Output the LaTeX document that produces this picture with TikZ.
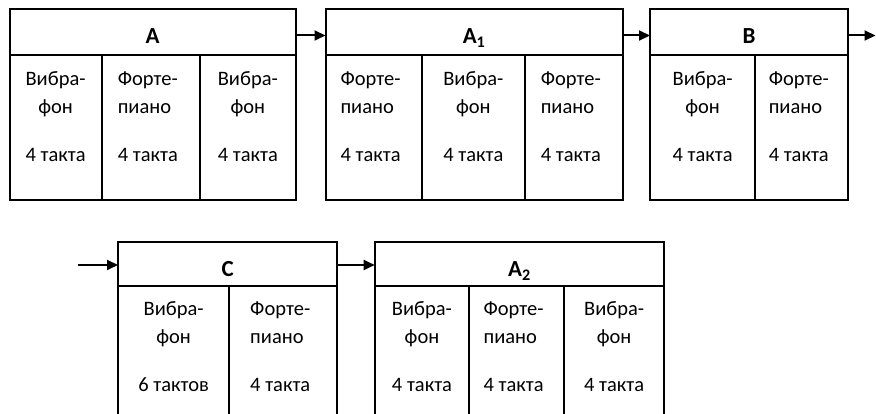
\documentclass[tikz,border=0pt]{standalone}
\usepackage{fontspec}
\setmainfont{Carlito}
\usetikzlibrary{arrows.meta}
\newcommand\mkbox[5]{%
  \pgfmathsetmacro\mybw{#4-#2}\pgfmathsetmacro\mybh{#5-#3}%
  \node[box,anchor=north west,minimum width=\mybw pt,minimum height=\mybh pt] (#1) at (#2,#3) {};}
\newcommand\vib[1]{\begin{tabular}[t]{@{}c@{}}Вибра-\\фон\\[20pt]#1\end{tabular}}
\newcommand\fort[1]{\begin{tabular}[t]{@{}l@{}}Форте-\\пиано\\[20pt]#1\end{tabular}}
\begin{document}
\begin{tikzpicture}[x=1pt,y=-1pt,
  box/.style={draw,line width=2pt,inner sep=0pt,outer sep=0pt},
  txt/.style={inner sep=0pt,anchor=base,font=\fontsize{20.5}{28}\selectfont},
  ttl/.style={txt,font=\fontsize{23}{28}\selectfont\bfseries},
  fo/.style={txt,xshift=-3pt},
  arr/.style={line width=2pt,-{Triangle[length=11pt,width=10pt]}}]
\useasboundingbox (0,0) rectangle (876,414);
\clip (0,0) rectangle (876,414);
% ---- top row ----
\mkbox{Ah}{9.5}{9.5}{295.7}{55.3}
\mkbox{Ac1}{9.5}{55.3}{101.7}{200}
\mkbox{Ac2}{101.7}{55.3}{200}{200}
\mkbox{Ac3}{200}{55.3}{295.7}{200}
\mkbox{A1h}{325.5}{9.5}{622.7}{55.3}
\mkbox{A1c1}{325.5}{55.3}{421.7}{200}
\mkbox{A1c2}{421.7}{55.3}{525}{200}
\mkbox{A1c3}{525}{55.3}{622.7}{200}
\mkbox{Bh}{650}{9.5}{848.3}{55.3}
\mkbox{Bc1}{650}{55.3}{755.3}{200}
\mkbox{Bc2}{755.3}{55.3}{848.3}{200}
\node[ttl] (At) at (152.6,43.3) {A};
\node[ttl] (A1t) at (474.1,43.3) {A\textsubscript{1}};
\node[ttl] (Bt) at (749.15,43.3) {B};
\node[txt] (Ac1t) at (55.6,85.5) {\vib{4 такта}};
\node[fo] (Ac2t) at (150.85,85.5) {\fort{4 такта}};
\node[txt] (Ac3t) at (247.85,85.5) {\vib{4 такта}};
\node[fo] (A1c1t) at (373.6,85.5) {\fort{4 такта}};
\node[txt] (A1c2t) at (473.35,85.5) {\vib{4 такта}};
\node[fo] (A1c3t) at (573.85,85.5) {\fort{4 такта}};
\node[txt] (Bc1t) at (702.65,85.5) {\vib{4 такта}};
\node[fo] (Bc2t) at (801.8,85.5) {\fort{4 такта}};
\coordinate (out) at (875.5,35.5);
\draw[arr] ([yshift=-3.1pt]Ah.east) -- ([yshift=-3.1pt]A1h.west);
\draw[arr] ([yshift=-3.1pt]A1h.east) -- ([yshift=-3.1pt]Bh.west);
\draw[arr] ([yshift=-3.1pt]Bh.east) -- (out);
% ---- bottom row ----
\mkbox{Ch}{118}{242.3}{337.3}{285.7}
\mkbox{Cc1}{118}{285.7}{229.3}{432}
\mkbox{Cc2}{229.3}{285.7}{337.3}{432}
\mkbox{A2h}{374.7}{242.3}{664.3}{285.7}
\mkbox{A2c1}{374.7}{285.7}{469.3}{432}
\mkbox{A2c2}{469.3}{285.7}{564}{432}
\mkbox{A2c3}{564}{285.7}{664.3}{432}
\node[ttl] (Ct) at (227.65,276.3) {C};
\node[ttl] (A2t) at (519.5,276.3) {A\textsubscript{2}};
\node[txt] (Cc1t) at (173.65,316) {\vib{6 тактов}};
\node[fo] (Cc2t) at (283.3,316) {\fort{4 такта}};
\node[txt] (A2c1t) at (422,316) {\vib{4 такта}};
\node[fo] (A2c2t) at (516.65,316) {\fort{4 такта}};
\node[txt] (A2c3t) at (614.15,316) {\vib{4 такта}};
\coordinate (in) at (78.3,265);
\draw[arr] (in) -- ([yshift=-1pt]Ch.west);
\draw[arr] ([yshift=-1pt]Ch.east) -- ([yshift=-1pt]A2h.west);
\end{tikzpicture}
\end{document}
